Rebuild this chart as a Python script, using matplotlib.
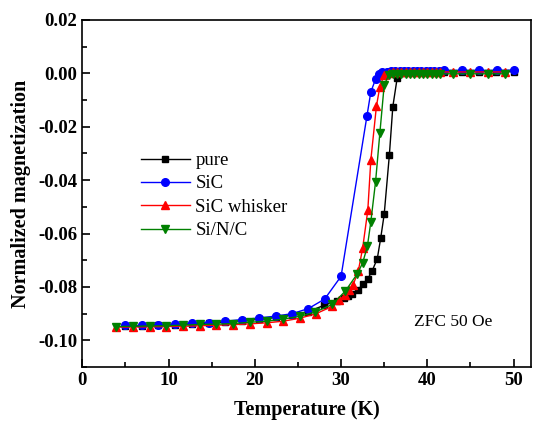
import matplotlib
matplotlib.use("Agg")
import matplotlib.pyplot as plt
from matplotlib.ticker import MultipleLocator, FuncFormatter

plt.rcParams['font.family'] = ['Liberation Serif', 'DejaVu Serif']

# pure
pure_T = [5.0, 6.9, 8.8, 10.8, 12.7, 14.7, 16.6, 18.5, 20.5, 22.4, 24.3, 26.2, 28.0,
          29.5, 30.3, 30.8, 31.3, 32.0, 32.5, 33.1, 33.6, 34.2, 34.6, 35.0, 35.6, 36.0, 36.5,
          37.0, 37.5, 38.0, 38.5, 39.0, 39.5, 40.0, 40.5, 41.0,
          41.9, 44.0, 46.0, 48.0, 50.0]
pure_M = [-0.0946, -0.0945, -0.0943, -0.0941, -0.0938, -0.0935, -0.0931, -0.0926, -0.0921,
          -0.0914, -0.0905, -0.0892, -0.0869,
          -0.0852, -0.0840, -0.0832, -0.0825, -0.0810, -0.0790, -0.0769, -0.0740, -0.0694,
          -0.0616, -0.0528, -0.0306, -0.0125, -0.0019,
          0.0002, 0.0004, 0.0005, 0.0005, 0.0005, 0.0005, 0.0006, 0.0006, 0.0006,
          0.0006, 0.0006, 0.0006, 0.0006, 0.0006]

# SiC
sic_T = [5.0, 6.9, 8.8, 10.8, 12.7, 14.7, 16.6, 18.5, 20.5, 22.4, 24.3, 26.2, 28.1, 30.0,
         33.0, 33.45, 34.0, 34.4,
         34.8, 35.3, 35.8, 36.3, 36.8, 37.3, 37.8, 38.3, 38.8, 39.3, 39.8, 40.3, 40.8, 41.3,
         41.9, 44.0, 46.0, 48.1, 50.0]
sic_M = [-0.0944, -0.0944, -0.0941, -0.0939, -0.0935, -0.0933, -0.0928, -0.0922, -0.0916,
         -0.0909, -0.0900, -0.0881, -0.0845, -0.0760,
         -0.0160, -0.0070, -0.0022, -0.0003,
         0.0004, 0.0006, 0.0007, 0.0008, 0.0008, 0.0009, 0.0009, 0.0009, 0.0010, 0.0010,
         0.0010, 0.0010, 0.0010, 0.0010,
         0.0011, 0.0011, 0.0011, 0.0011, 0.0012]

# SiC whisker
whisker_T = [3.9, 5.85, 7.8, 9.7, 11.7, 13.6, 15.5, 17.5, 19.4, 21.4, 23.3, 25.2,
             27.1, 29.0, 29.8, 30.4, 30.9, 31.4, 32.0, 32.5, 33.1, 33.45, 34.1, 34.5, 35.0,
             35.5, 36.0, 36.5, 37.0, 37.5, 38.0, 38.5, 39.0, 39.5, 40.0, 40.5, 41.0, 41.5,
             43.0, 45.0, 47.0, 49.0]
whisker_M = [-0.0950, -0.0950, -0.0949, -0.0948, -0.0947, -0.0945, -0.0943, -0.0941,
             -0.0938, -0.0934, -0.0928, -0.0917,
             -0.0900, -0.0872, -0.0850, -0.0830, -0.0813, -0.0792, -0.0740, -0.0655,
             -0.0513, -0.0325, -0.0123, -0.0050, -0.0006,
             0.0002, 0.0004, 0.0005, 0.0005, 0.0005, 0.0005, 0.0005, 0.0005, 0.0005,
             0.0005, 0.0005, 0.0005, 0.0005,
             0.0005, 0.0005, 0.0005, 0.0005]

# Si/N/C
sinc_T = [3.9, 5.85, 7.8, 9.7, 11.7, 13.6, 15.5, 17.5, 19.4, 21.4, 23.3, 25.2,
          27.0, 29.0, 30.5,
          31.9, 32.5, 33.05, 33.45, 34.0, 34.5, 35.0,
          35.5, 36.0, 36.5, 37.0, 37.5, 38.0, 38.5, 39.0, 39.5, 40.0, 40.5, 41.0, 41.5,
          43.0, 45.0, 47.0, 49.0]
sinc_M = [-0.0948, -0.0947, -0.0946, -0.0945, -0.0943, -0.0940, -0.0939, -0.0937,
          -0.0932, -0.0928, -0.0920, -0.0910,
          -0.0894, -0.0865, -0.0815,
          -0.0750, -0.0710, -0.0648, -0.0556, -0.0406, -0.0223, -0.0044,
          -0.0008, -0.0004, -0.0003, -0.0002, -0.0002, -0.0002, -0.0002, -0.0002, -0.0002,
          -0.0002, -0.0002, -0.0002, -0.0002,
          -0.0002, -0.0002, -0.0002, -0.0002]

fig = plt.figure(figsize=(5.45, 4.22), dpi=100)
ax = fig.add_axes([0.151, 0.130, 0.823, 0.823])

ax.plot(pure_T, pure_M, color='black', marker='s', ms=5, lw=1, label='pure')
ax.plot(sic_T, sic_M, color='blue', marker='o', ms=5.5, lw=1, label='SiC')
ax.plot(whisker_T, whisker_M, color='red', marker='^', ms=6, lw=1, label='SiC whisker')
ax.plot(sinc_T, sinc_M, color='green', marker='v', ms=6, lw=1, label='Si/N/C')

ax.set_xlim(0, 52)
ax.set_ylim(-0.11, 0.02)
ax.xaxis.set_major_locator(MultipleLocator(10))
ax.xaxis.set_minor_locator(MultipleLocator(5))
ax.yaxis.set_major_locator(MultipleLocator(0.02))
ax.yaxis.set_minor_locator(MultipleLocator(0.01))
ax.yaxis.set_major_formatter(FuncFormatter(lambda v, p: '%.2f' % (0.0 if abs(v) < 1e-9 else v)))
ax.tick_params(which='both', direction='in', top=False, right=False, width=1.2)
ax.tick_params(which='major', length=6, labelsize=13.5)
ax.tick_params(which='minor', length=3.5)
for lab in ax.get_xticklabels() + ax.get_yticklabels():
    lab.set_fontweight('bold')
for sp in ax.spines.values():
    sp.set_linewidth(1.2)

ax.set_xlabel('Temperature (K)', fontsize=14.5, fontweight='bold', labelpad=8)
ax.set_ylabel('Normalized magnetization', fontsize=14.5, fontweight='bold', labelpad=5)

ax.legend(loc='upper left', bbox_to_anchor=(0.093, 0.668), frameon=False, fontsize=13.5,
          handlelength=2.6, handletextpad=0.3, labelspacing=0.33)
ax.text(38.5, -0.0945, 'ZFC 50 Oe', fontsize=12.5)

fig.savefig('out.png', dpi=100)
